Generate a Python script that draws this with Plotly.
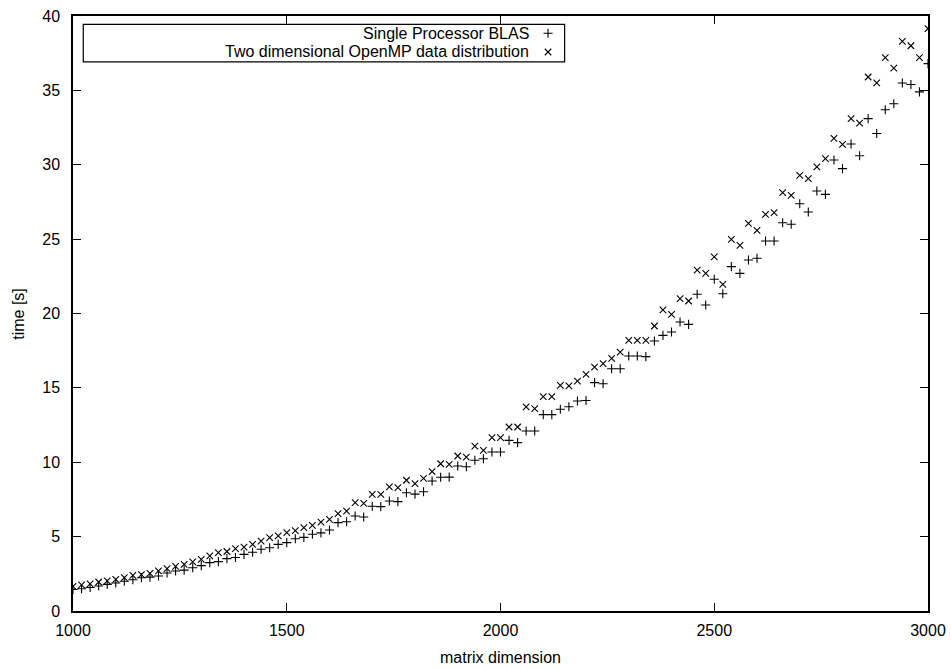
import plotly.graph_objects as go

# Matrix sizes (step 20 from 1000 to 3000)
matrix_dim = list(range(1000, 3001, 20))

# Wall-clock time [s], single processor BLAS
blas_time = [
    1.45, 1.50, 1.58, 1.68, 1.79, 1.88, 2.00, 2.10, 2.24, 2.28,
    2.35, 2.55, 2.69, 2.75, 2.91, 3.05, 3.25, 3.32, 3.52, 3.60,
    3.81, 3.95, 4.15, 4.25, 4.48, 4.60, 4.86, 4.95, 5.16, 5.25,
    5.45, 5.94, 6.00, 6.39, 6.32, 7.04, 7.02, 7.39, 7.35, 7.95,
    7.86, 8.02, 8.74, 8.99, 9.00, 9.75, 9.70, 10.13, 10.24, 10.69,
    10.69, 11.47, 11.32, 12.10, 12.10, 13.20, 13.20, 13.56, 13.73, 14.12,
    14.15, 15.35, 15.28, 16.29, 16.29, 17.14, 17.14, 17.10, 18.15, 18.53,
    18.76, 19.43, 19.27, 21.29, 20.57, 22.30, 21.33, 23.15, 22.70, 23.60,
    23.71, 24.87, 24.87, 26.10, 26.00, 27.38, 26.82, 28.24, 28.01, 30.32,
    29.74, 31.40, 30.60, 33.10, 32.10, 33.70, 34.10, 35.50, 35.40, 34.90,
    36.80,
]

# Wall-clock time [s], two dimensional OpenMP data distribution
omp_time = [
    1.65, 1.75, 1.82, 1.95, 2.02, 2.13, 2.25, 2.40, 2.45, 2.53,
    2.70, 2.85, 3.00, 3.14, 3.30, 3.47, 3.70, 3.92, 4.00, 4.19,
    4.30, 4.48, 4.70, 4.93, 5.05, 5.27, 5.40, 5.60, 5.75, 5.98,
    6.16, 6.54, 6.72, 7.28, 7.24, 7.84, 7.84, 8.34, 8.29, 8.79,
    8.56, 8.92, 9.37, 9.90, 9.86, 10.42, 10.35, 11.09, 10.80, 11.65,
    11.65, 12.37, 12.37, 13.73, 13.60, 14.41, 14.41, 15.17, 15.13, 15.46,
    15.91, 16.40, 16.63, 16.99, 17.41, 18.20, 18.20, 18.20, 19.16, 20.24,
    19.94, 21.00, 20.84, 22.92, 22.70, 23.80, 21.96, 24.99, 24.58, 26.06,
    25.59, 26.67, 26.78, 28.12, 27.94, 29.29, 29.07, 29.85, 30.41, 31.78,
    31.37, 33.10, 32.80, 35.90, 35.50, 37.20, 36.50, 38.30, 38.00, 37.20,
    39.15,
]

x_ticks = [1000, 1500, 2000, 2500, 3000]
y_ticks = [0, 5, 10, 15, 20, 25, 30, 35, 40]

series_names = ["Single Processor BLAS", "Two dimensional OpenMP data distribution"]

FONT = "Liberation Sans, Arial, Helvetica, sans-serif"
MSIZE = 6.5
MLINE = 1.1

fig = go.Figure()

fig.add_trace(go.Scatter(
    x=matrix_dim, y=blas_time, mode="markers", name=series_names[0],
    marker=dict(symbol="cross-thin", size=MSIZE, line=dict(width=MLINE, color="black"), color="black"),
    showlegend=False,
))
fig.add_trace(go.Scatter(
    x=matrix_dim, y=omp_time, mode="markers", name=series_names[1],
    marker=dict(symbol="x-thin", size=MSIZE, line=dict(width=MLINE, color="black"), color="black"),
    showlegend=False,
))

# Key samples drawn on an overlay axis spanning the plot area in [0, 1]
key_x = 0.5556
key_y = [0.971, 0.9395]
for sym, ky in zip(["cross-thin", "x-thin"], key_y):
    fig.add_trace(go.Scatter(
        x=[key_x], y=[ky], xaxis="x2", yaxis="y2", mode="markers",
        marker=dict(symbol=sym, size=MSIZE, line=dict(width=MLINE, color="black"), color="black"),
        showlegend=False, hoverinfo="skip",
    ))

axis_common = dict(
    showline=True, linecolor="black", linewidth=1.5, mirror="ticks",
    ticks="inside", ticklen=8, tickwidth=1.2, tickcolor="black",
    showgrid=False, zeroline=False, automargin=False,
    tickfont=dict(family=FONT, size=16, color="black"),
)

fig.update_layout(
    width=951, height=669,
    margin=dict(l=73, r=23, t=16, b=58),
    paper_bgcolor="white", plot_bgcolor="white",
    xaxis=dict(range=[1000, 3000], tickvals=x_ticks, ticklabelstandoff=4, **axis_common),
    yaxis=dict(range=[0, 40], tickvals=y_ticks, ticklabelstandoff=8, **axis_common),
    xaxis2=dict(range=[0, 1], overlaying="x", visible=False, automargin=False),
    yaxis2=dict(range=[0, 1], overlaying="y", visible=False, automargin=False),
    shapes=[dict(
        type="rect", xref="paper", yref="paper",
        x0=0.012, x1=0.575, y0=0.923, y1=0.986,
        line=dict(color="black", width=1.2), fillcolor="rgba(0,0,0,0)",
    )],
    annotations=[
        dict(text=series_names[0], x=0.5357, y=key_y[0], xref="paper", yref="paper",
             xanchor="right", yanchor="middle", showarrow=False,
             font=dict(family=FONT, size=16, color="black")),
        dict(text=series_names[1], x=0.5357, y=key_y[1], xref="paper", yref="paper",
             xanchor="right", yanchor="middle", showarrow=False,
             font=dict(family=FONT, size=16, color="black")),
        dict(text="matrix dimension", x=0.5, y=-0.078, xref="paper", yref="paper",
             xanchor="center", yanchor="middle", showarrow=False,
             font=dict(family=FONT, size=16, color="black")),
        dict(text="time [s]", x=-0.064, y=0.5, xref="paper", yref="paper",
             xanchor="center", yanchor="middle", showarrow=False, textangle=-90,
             font=dict(family=FONT, size=16, color="black")),
    ],
)

fig.write_html("out.html")
